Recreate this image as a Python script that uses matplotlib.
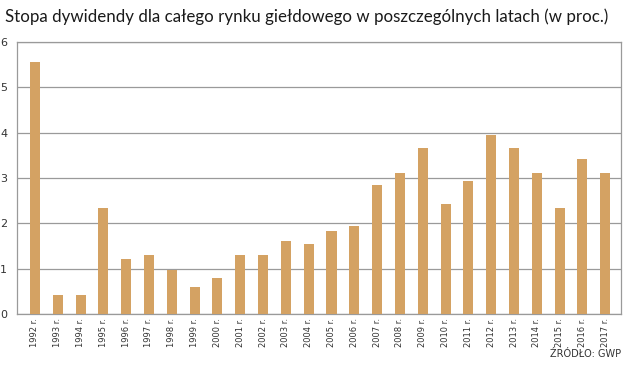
import matplotlib
matplotlib.use("Agg")
import matplotlib.pyplot as plt

years = [str(y) + " r." for y in range(1992, 2018)]
values = [5.55, 0.42, 0.42, 2.34, 1.21, 1.30, 0.97, 0.60, 0.80, 1.30, 1.30, 1.60,
          1.55, 1.82, 1.94, 2.85, 3.12, 3.66, 2.43, 2.94, 3.94, 3.66, 3.12, 2.34,
          3.42, 3.12]
yticks = [0, 1, 2, 3, 4, 5, 6]

BAR = "#d4a263"
GRID = "#9a9a9a"

fig = plt.figure(figsize=(6.25, 3.67), dpi=100)
ax = fig.add_axes([0.027, 0.1444, 0.967, 0.7412])

x = range(len(values))
ax.bar(x, values, width=0.44, color=BAR, zorder=3)

ax.set_xlim(-0.79, len(values) - 0.3)
ax.set_ylim(0, 6)
ax.set_yticks(yticks)
ax.set_yticklabels([str(v) for v in yticks], fontsize=8, color="#333333")
ax.set_xticks(list(x))
ax.set_xticklabels(years, rotation=90, fontsize=6, color="#333333")
ax.tick_params(axis="both", length=0)
ax.tick_params(axis="y", pad=7)
ax.tick_params(axis="x", pad=3)
ax.grid(axis="y", color=GRID, linewidth=0.9, zorder=0)
for s in ax.spines.values():
    s.set_color(GRID)
    s.set_linewidth(0.9)

fig.text(0.008, 0.955, "Stopa dywidendy dla całego rynku giełdowego w poszczególnych latach (w proc.)",
         fontsize=12.2, fontfamily="Lato", ha="left", va="center", color="#1a1a1a")
fig.text(0.994, 0.035, "ŹRÓDŁO: GWP", fontsize=7, ha="right", va="center", color="#333333")

fig.savefig("out.png", dpi=100)
